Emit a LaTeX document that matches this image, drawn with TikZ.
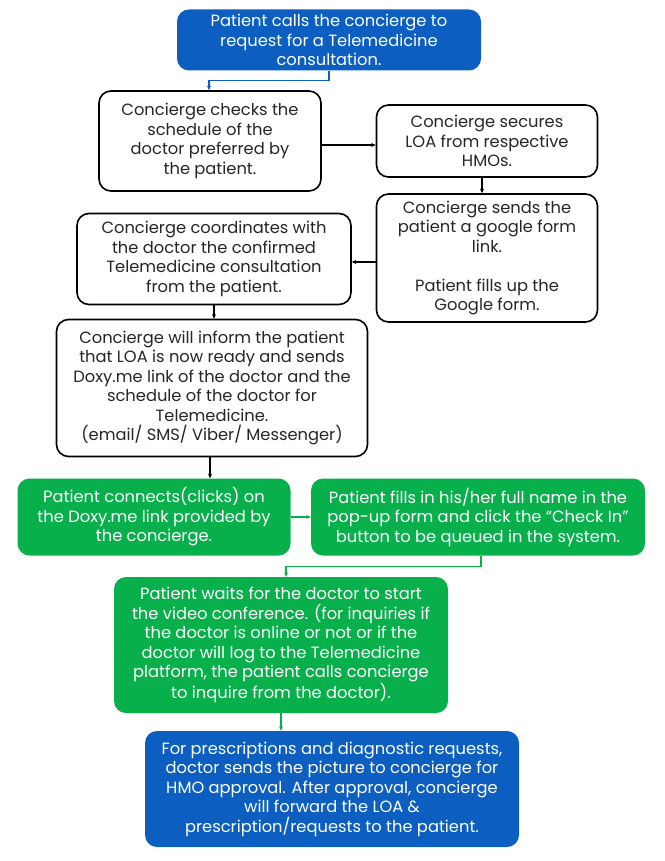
\documentclass[tikz,border=0pt]{standalone}
\usepackage{fontspec}
\setmainfont{Poppins}
\usetikzlibrary{arrows.meta}
\definecolor{stepblue}{RGB}{12,94,192}
\definecolor{stepgreen}{RGB}{8,176,76}
\begin{document}
\begin{tikzpicture}[x=1pt, y=-1pt, >={Stealth[length=4.5pt,width=4pt]},
	every node/.style={rectangle, rounded corners=12pt, align=center, inner sep=2pt,
		font=\fontsize{16.3}{19.5}\selectfont},
	bluebox/.style={fill=stepblue, text=white},
	greenbox/.style={fill=stepgreen, text=white},
	whitebox/.style={draw=black, line width=1.6pt, fill=white, text=black!85}]
	\useasboundingbox (0,0) rectangle (664,861);
	\node (call) [bluebox, minimum width=304pt, minimum height=61pt] at (329,40) {Patient calls the concierge to\\request for a Telemedicine\\consultation.};
	\node (sched) [whitebox, minimum width=222pt, minimum height=100pt] at (210,141) {Concierge checks the\\schedule of the\\doctor preferred by\\the patient.};
	\node (loa) [whitebox, minimum width=221pt, minimum height=72pt] at (487,141) {Concierge secures\\LOA from respective\\HMOs.};
	\node (form) [whitebox, minimum width=221pt, minimum height=128pt] at (487,258) {Concierge sends the\\patient a google form\\link.\\[19.5pt]Patient fills up the\\Google form.};
	\node (coord) [whitebox, minimum width=274pt, minimum height=91pt] at (214,259) {Concierge coordinates with\\the doctor the confirmed\\Telemedicine consultation\\from the patient.};
	\node (inform) [whitebox, minimum width=311pt, minimum height=137pt] at (212,388) {Concierge will inform the patient\\that LOA is now ready and sends\\Doxy.me link of the doctor and the\\schedule of the doctor for\\Telemedicine.\\(email/ SMS/ Viber/ Messenger)};
	\node (clicks) [greenbox, minimum width=273pt, minimum height=77pt] at (154,517) {Patient connects(clicks) on\\the Doxy.me link provided by\\the concierge.};
	\node (checkin) [greenbox, minimum width=334pt, minimum height=77pt] at (478,517) {Patient fills in his/her full name in the\\pop-up form and click the “Check In”\\button to be queued in the system.};
	\node (wait) [greenbox, minimum width=334pt, minimum height=136pt] at (281,645) {Patient waits for the doctor to start\\the video conference. (for inquiries if\\the doctor is online or not or if the\\doctor will log to the Telemedicine\\platform, the patient calls concierge\\to inquire from the doctor).};
	\node (presc) [bluebox, minimum width=374pt, minimum height=116pt] at (332,789) {For prescriptions and diagnostic requests,\\doctor sends the picture to concierge for\\HMO approval. After approval, concierge\\will forward the LOA \&\\prescription/requests to the patient.};
	% Arrows
	\draw[->, stepblue, line width=1.3pt] (call.south) -- ++(0,10) -| (sched.north -| 209,0);
	\draw[->, line width=1.2pt] (sched.east |- 0,145) -- (loa.west |- 0,145);
	\draw[->, line width=1.2pt] (loa.south -| 482,0) -- (form.north -| 482,0);
	\draw[->, line width=1.2pt] (form.west |- 0,262) -- (coord.east |- 0,262);
	\draw[->, line width=1.2pt] (coord.south) -- (inform.north -| coord.south);
	\draw[->, line width=1.2pt] (inform.south -| 210,0) -- (clicks.north -| 210,0);
	\draw[->, stepgreen, line width=1.3pt] (clicks.east) -- (checkin.west);
	\draw[->, stepgreen, line width=1.3pt] (checkin.south -| 481,0) -- ++(0,11) -| (wait.north -| 286,0);
	\draw[->, stepgreen, line width=1.3pt] (wait.south) -- (presc.north -| wait.south);
\end{tikzpicture}
\end{document}
